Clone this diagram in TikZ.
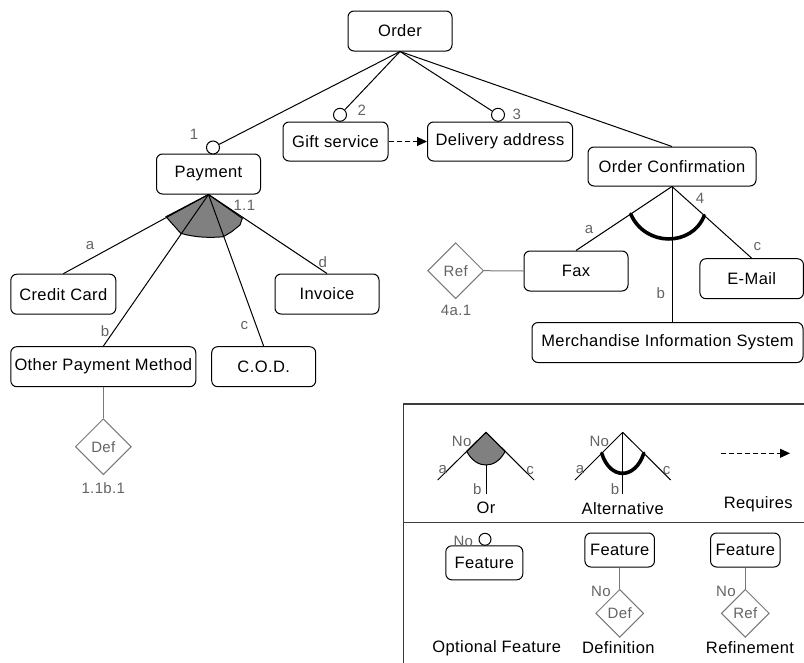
\documentclass[tikz,border=0pt]{standalone}
\usepackage{fontspec}
\setmainfont{Liberation Sans}[LetterSpace=2.5]
\usetikzlibrary{shapes.geometric,arrows.meta,calc}
\definecolor{lblgray}{RGB}{100,100,100}
\definecolor{linegray}{RGB}{120,120,120}
\definecolor{orfill}{RGB}{128,128,128}
\definecolor{framegray}{RGB}{60,60,60}

\tikzset{
  feat/.style={draw, rounded corners=6pt, line width=1pt, inner sep=0pt,
    font=\fontsize{16.5}{19}\selectfont, minimum height=40},
  smallfeat/.style={feat, minimum height=34},
  optc/.style={circle, draw, fill=white, line width=1pt, inner sep=0pt, minimum size=13},
  conn/.style={line width=1pt},
  grayconn/.style={line width=1pt, draw=linegray},
  lbl/.style={text=lblgray, inner sep=0pt, font=\fontsize{15}{17}\selectfont},
  caption/.style={inner sep=0pt, font=\fontsize{16.5}{19}\selectfont},
  refdia/.style={diamond, draw=linegray, line width=1pt, inner sep=0pt, text=lblgray,
    font=\fontsize{15}{17}\selectfont, minimum width=56, minimum height=56},
  smalldia/.style={refdia, minimum width=48, minimum height=48},
  orshade/.style={fill=orfill, draw=black, line width=1pt},
  altarc/.style={line width=3.6pt, line cap=round},
  requires/.style={line width=1pt, dash pattern=on 5pt off 3pt,
    -{Triangle[length=10pt,width=9pt]}},
}

\begin{document}
\begin{tikzpicture}[x=1pt,y=-1pt]
\useasboundingbox (0,0) rectangle (804,662);
\clip (0,0) rectangle (804,662);

% ---------- feature boxes ----------
\node[feat, minimum width=104] (order) at (400,31) {Order};
\node[feat, minimum width=105, minimum height=39] (gift) at (335.5,141.5) {Gift service};
\node[feat, minimum width=145, minimum height=39] (deliv) at (500,141.5) {Delivery address};
\node[feat, minimum width=104] (payment) at (208.5,174) {Payment};
\node[feat, minimum width=168, minimum height=39] (oc) at (672,166.5) {Order Confirmation};
\node[feat, minimum width=105] (credit) at (63.3,294.2) {Credit Card};
\node[feat, minimum width=104] (invoice) at (327,294) {Invoice};
\node[feat, minimum width=185] (opm) at (103.3,366.7) {Other Payment Method};
\node[feat, minimum width=104] (cod) at (263.7,366.7) {C.O.D.};
\node[feat, minimum width=104] (fax) at (576,271) {Fax};
\node[feat, minimum width=103.5] (email) at (751.7,278.7) {E-Mail};
\node[feat, minimum width=271] (mis) at (667.5,342.5) {Merchandise Information System};

% ---------- optional markers ----------
\node[optc] (c1) at (213,147.5) {};
\node[optc] (c2) at (340,114.8) {};
\node[optc] (c3) at (498,114.8) {};

\draw[conn] (order.south) -- (c1);
\draw[conn] (order.south) -- (c2);
\draw[conn] (order.south) -- (c3);
\draw[conn] (order.south) -- (oc.north);

\node[lbl] (l1) at (194,134) {1};
\node[lbl] (l2) at (361.7,110) {2};
\node[lbl] (l3) at (516.7,114) {3};

% requires dependency
\draw[requires] (gift.east) -- (deliv.west);

% ---------- or-group under Payment ----------
\draw[orshade] (payment.south) -- (166,216.7) -- (180.7,233.3)
  .. controls (195,237.5) and (210,238) .. (223.3,236.7)
  -- (231.7,231.7) -- (240,225) -- (242.3,218.3) -- cycle;
\draw[conn] (payment.south) -- (credit.north);
\draw[conn] (payment.south) -- (opm.north);
\draw[conn] (payment.south) -- (cod.north);
\draw[conn] (payment.south) -- (invoice.north);

\node[lbl] (l11) at (244.3,205) {1.1};
\node[lbl] (la) at (90,246) {a};
\node[lbl] (lb) at (105,330.7) {b};
\node[lbl] (lc) at (244.3,326) {c};
\node[lbl] (ld) at (322.7,261.7) {d};

% definition of Other Payment Method
\node[refdia] (def1) at (103.3,446.7) {Def};
\draw[grayconn] (opm.south) -- (def1.north);
\node[lbl] (ldef1) at (103.3,488) {1.1b.1};

% ---------- alternative group under Order Confirmation ----------
\draw[conn] (oc.south) -- (fax.north);
\draw[conn] (oc.south) -- (email.north);
\draw[conn] (oc.south) -- (oc.south |- mis.north);
\draw[altarc] ($(oc.south)!0.43!(fax.north)$)
  .. controls (645,247) and (692,247) .. ($(oc.south)!0.405!(email.north)$);

\node[lbl] (l4) at (700,198.3) {4};
\node[lbl] (l4a) at (589,230) {a};
\node[lbl] (l4b) at (660.7,293) {b};
\node[lbl] (l4c) at (757.3,246.7) {c};

% refinement of Fax
\node[refdia] (ref1) at (455.7,270.7) {Ref};
\draw[grayconn] (ref1.east) -- (fax.west);
\node[lbl] (lref1) at (456,310) {4a.1};

% ---------- legend ----------
\coordinate (frBL) at (403.3,664);
\coordinate (frTL) at (403.3,404);
\coordinate (frTR) at (806,404);
\coordinate (dvL) at (403.3,522.7);
\coordinate (dvR) at (806,522.7);
\draw[line width=1.2pt, framegray] (frBL) -- (frTL) -- (frTR);
\draw[line width=1.2pt, framegray] (dvL) -- (dvR);

% Or
\coordinate (orTop) at (486,432.3);
\coordinate (orA) at (437.7,480);
\coordinate (orC) at (534,480);
\coordinate (orBot) at (486,465);
\coordinate (orB) at (486,494);
\draw[orshade] (orTop) -- ($(orTop)!0.4!(orA)$)
  .. controls (472,461) and (479,465) .. (orBot)
  .. controls (493,465) and (500,461) .. ($(orTop)!0.4!(orC)$) -- cycle;
\draw[conn] (orTop) -- (orA);
\draw[conn] (orTop) -- (orC);
\draw[conn] (orBot) -- (orB);
\node[lbl] (orNo) at (461.7,441.7) {No};
\node[lbl] (ora) at (442.7,470) {a};
\node[lbl] (orc) at (530,470.7) {c};
\node[lbl] (orb) at (477.3,489.3) {b};
\node[caption] (orCap) at (486,508.3) {Or};

% Alternative
\coordinate (alTop) at (622.7,432.3);
\coordinate (alA) at (575,480);
\coordinate (alC) at (670.7,480);
\coordinate (alB) at (622.7,494);
\draw[conn] (alTop) -- (alA);
\draw[conn] (alTop) -- (alC);
\draw[conn] (alTop) -- (alB);
\draw[altarc] ($(alTop)!0.44!(alA)$)
  .. controls (610,480) and (635,480) .. ($(alTop)!0.44!(alC)$);
\node[lbl] (alNo) at (599.3,441.7) {No};
\node[lbl] (ala) at (580,470) {a};
\node[lbl] (alc) at (666.7,470.7) {c};
\node[lbl] (alb) at (615,489.3) {b};
\node[caption] (alCap) at (622.7,508.3) {Alternative};

% Requires
\coordinate (rqS) at (720.7,453.3);
\coordinate (rqE) at (790,453.3);
\draw[requires] (rqS) -- (rqE);
\node[caption] (rqCap) at (758.3,504) {Requires};

% Optional feature
\node[smallfeat, minimum width=77] (optF) at (484.3,562.8) {Feature};
\node[optc, minimum size=12] (optC) at (485,539.3) {};
\node[lbl] (optNo) at (463.3,541.7) {No};
\node[caption] (optCap) at (496.7,648.3) {Optional Feature};

% Definition
\node[smallfeat, minimum width=69.5] (defF) at (619.7,550) {Feature};
\node[smalldia] (defD) at (619.7,613.3) {Def};
\draw[grayconn] (defF.south) -- (defD.north);
\node[lbl] (defNo) at (601,591.7) {No};
\node[caption] (defCap) at (618.3,647.3) {Definition};

% Refinement
\node[smallfeat, minimum width=69.5] (refF) at (745.3,550) {Feature};
\node[smalldia] (refD) at (745.3,613.3) {Ref};
\draw[grayconn] (refF.south) -- (refD.north);
\node[lbl] (refNo) at (726,591.7) {No};
\node[caption] (refCap) at (750,647.3) {Refinement};
\end{tikzpicture}
\end{document}
